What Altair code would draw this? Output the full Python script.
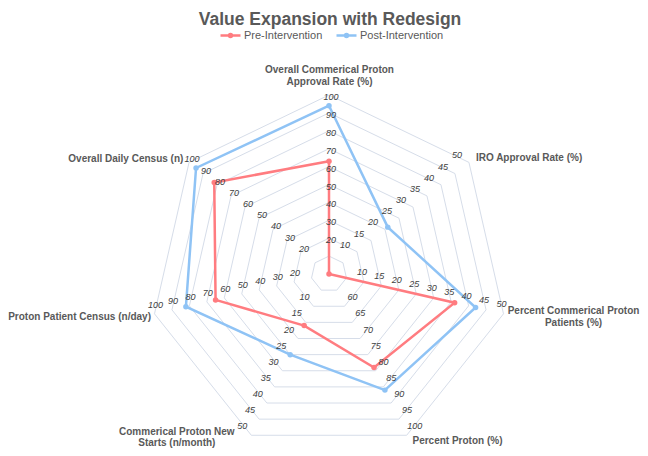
import altair as alt
import pandas as pd

# ---------------- data ----------------
title_text = "Value Expansion with Redesign"
axis_names = [
    "Overall Commerical Proton\nApproval Rate (%)",
    "IRO Approval Rate (%)",
    "Percent Commerical Proton\nPatients (%)",
    "Percent Proton (%)",
    "Commerical Proton New\nStarts (n/month)",
    "Proton Patient Census (n/day)",
    "Overall Daily Census (n)",
]
axis_min = [0, 0, 0, 50, 0, 0, 0]
axis_max = [100, 50, 50, 100, 50, 100, 100]
ring_count = 10
first_labeled_ring = 2
series_names = ["Pre-Intervention", "Post-Intervention"]
pre_values = [63, 0, 36, 79, 16, 65, 82]
post_values = [94, 21, 42, 86, 25, 82, 95]

# ---------------- style / layout ----------------
colors = ["#FF7C80", "#8FC3F5"]
grid_color = "#d6dde9"
FONT = "Liberation Sans"
R_PX = 179.0
VIEW_W, VIEW_H = 632, 440
CX, CY = 321.0, 266.0
x_domain = [-CX / R_PX, (VIEW_W - CX) / R_PX]
y_domain = [-(VIEW_H - CY) / R_PX, CY / R_PX]

tick_dx = [2, -12, -2, 8, -9, 1, 3]
tick_dy = [2, -7, -10, -9, -9, -9, -3]
name_align = ["center", "left", "center", "center", "center", "right", "right"]
name_dx = [0.5, 7, 70, 50.8, -74.5, -3.5, -5.7]
name_dy = [-25, -4.5, -3.1, 6, -3.3, 3, -3.5]
name_lh = [12, 12, 12, 12, 11, 12, 12]

n = len(axis_names)

series_rows = []
for s, vals in zip(series_names, [pre_values, post_values]):
    for o in range(n + 1):
        i = o % n
        series_rows.append({"series": s, "axis": i, "ord": o, "value": vals[i],
                            "amin": axis_min[i], "amax": axis_max[i]})
series_df = pd.DataFrame(series_rows)

ring_rows = []
for k in range(1, ring_count + 1):
    for o in range(n + 1):
        ring_rows.append({"ring": k, "axis": o % n, "ord": o})
ring_df = pd.DataFrame(ring_rows)

tick_rows = []
for i in range(n):
    for k in range(first_labeled_ring, ring_count + 1):
        v = axis_min[i] + k * (axis_max[i] - axis_min[i]) / ring_count
        tick_rows.append({"axis": i, "ring": k, "label": f"{v:g}",
                          "dxp": tick_dx[i], "dyp": tick_dy[i]})
tick_df = pd.DataFrame(tick_rows)

names_df = pd.DataFrame({"axis": list(range(n)), "name": axis_names, "align": name_align,
                         "dxp": name_dx, "dyp": name_dy, "lh": name_lh})
title_df = pd.DataFrame({"title": [title_text]})

TH = f"datum.axis * 2 * PI / {n}"
X = alt.X("x:Q", scale=alt.Scale(domain=x_domain, nice=False, zero=False), axis=None)
Y = alt.Y("y:Q", scale=alt.Scale(domain=y_domain, nice=False, zero=False), axis=None)

rings = alt.Chart(ring_df).transform_calculate(
    r=f"datum.ring / {ring_count}"
).transform_calculate(
    x=f"datum.r * sin({TH})", y=f"datum.r * cos({TH})"
).mark_line(color=grid_color, strokeWidth=1).encode(
    x=X, y=Y, detail="ring:N", order="ord:Q"
)

ticks = alt.Chart(tick_df).transform_calculate(
    r=f"datum.ring / {ring_count}"
).transform_calculate(
    x=f"datum.r * sin({TH}) + datum.dxp / {R_PX}",
    y=f"datum.r * cos({TH}) - datum.dyp / {R_PX}",
).mark_text(font=FONT, fontSize=9, fontStyle="italic", color="#404040",
            align="center", baseline="middle").encode(x=X, y=Y, text="label:N")

sym = "M-1,0L1,0M0.15,0A0.15,0.15,0,1,1,-0.15,0A0.15,0.15,0,1,1,0.15,0"
color_scale = alt.Scale(domain=series_names, range=colors)

sbase = alt.Chart(series_df).transform_calculate(
    r="(datum.value - datum.amin) / (datum.amax - datum.amin)"
).transform_calculate(
    x=f"datum.r * sin({TH})", y=f"datum.r * cos({TH})"
)
lines = sbase.mark_line(strokeWidth=2.5).encode(
    x=X, y=Y, order="ord:Q",
    color=alt.Color("series:N", scale=color_scale, legend=alt.Legend(
        title=None, orient="none", legendX=211, legendY=16, direction="horizontal",
        symbolType=sym, symbolSize=400, symbolStrokeWidth=2.5,
        labelFont=FONT, labelFontSize=11, labelColor="#595959",
        labelOffset=2, columnPadding=8, padding=0)),
)
points = sbase.transform_filter(f"datum.ord < {n}").mark_circle(size=30, opacity=1).encode(
    x=X, y=Y, color=alt.Color("series:N", scale=color_scale, legend=None)
)

name_layers = []
for al in ["left", "center", "right"]:
    for lh in sorted(set(name_lh)):
        if not any(a == al and h == lh for a, h in zip(name_align, name_lh)):
            continue
        name_layers.append(
            alt.Chart(names_df).transform_filter(
                f"datum.align == '{al}' && datum.lh == {lh}"
            ).transform_calculate(
                x=f"sin({TH}) + datum.dxp / {R_PX}",
                y=f"cos({TH}) - datum.dyp / {R_PX}",
            ).mark_text(font=FONT, fontSize=10, fontWeight="bold", color="#595959",
                        align=al, baseline="middle", lineBreak="\n", lineHeight=lh
                        ).encode(x=X, y=Y, text="name:N")
        )

title = alt.Chart(title_df).mark_text(
    font=FONT, fontSize=17.5, fontWeight="bold", color="#595959",
    align="center", baseline="alphabetic"
).encode(x=alt.value(322), y=alt.value(16.5), text="title:N")

chart = alt.layer(rings, lines, points, ticks, *name_layers, title).properties(
    width=VIEW_W, height=VIEW_H,
    autosize=alt.AutoSizeParams(type="none"),
    padding=0,
).configure_view(stroke=None)

chart.save("out.html", embed_options={"renderer": "svg", "actions": False})
